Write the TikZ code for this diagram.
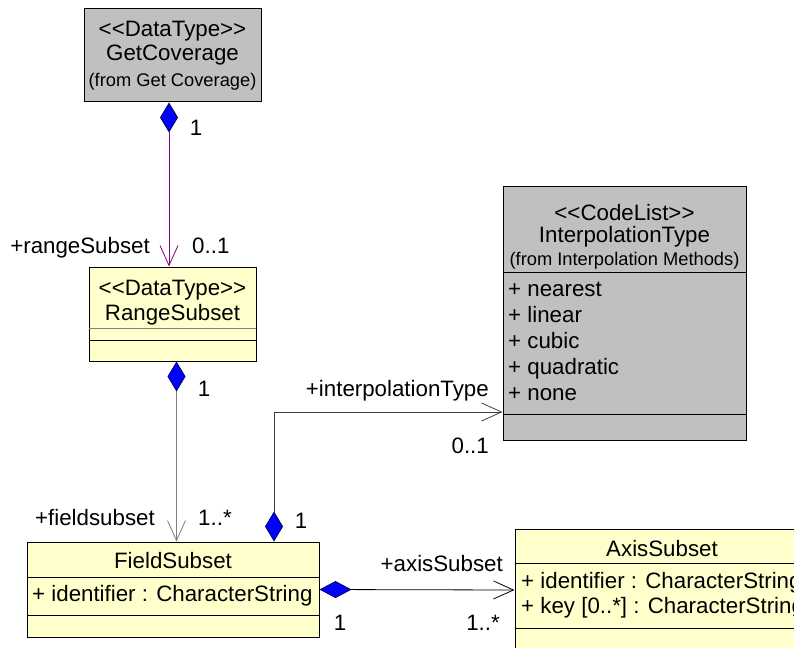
\documentclass[tikz,border=0pt]{standalone}
\usepackage{fontspec}
\setmainfont{Liberation Sans}
\usetikzlibrary{arrows.meta}
\definecolor{jaune}{HTML}{FFFFCC}
\definecolor{grisclair}{HTML}{C0C0C0}
\definecolor{lienviolet}{HTML}{800080}
\definecolor{liengris}{HTML}{7F7F7F}
\newcommand{\stereotype}[1]{<\kern0pt<#1>\kern0pt>}
\begin{document}
\begin{tikzpicture}[x=1pt,y=-1pt]
		\tikzstyle{classe}=[draw, fill=jaune, line width=1pt, inner sep=0pt]
		\tikzstyle{classe_grise}=[draw, fill=grisclair, line width=1pt, inner sep=0pt]
		\tikzstyle{texte}=[font=\fontsize{22.3}{26}\selectfont, inner sep=0pt, text height=16pt, text depth=0pt]
		\tikzstyle{petit}=[font=\fontsize{18.3}{21}\selectfont, inner sep=0pt, text height=13.1pt, text depth=0pt]
		\tikzstyle{compo}=[line width=0.8pt, {Diamond[color=blue!40!black, fill=blue, length=30pt, width=18pt]}-{Straight Barb[length=20pt, width=18pt]}]
		\tikzstyle{compo_h}=[line width=0.8pt, {Diamond[color=blue!40!black, fill=blue, length=32pt, width=17pt]}-{Straight Barb[length=20pt, width=18pt]}]
		\useasboundingbox (0,0) rectangle (794,647);
		\clip (0,0) rectangle (794,647);
		% classes
		\node[classe_grise, minimum width=177pt, minimum height=93pt] (getcov) at (172.5,55.5) {};
		\node[texte] (getcov_st) at (172.5,29) {\stereotype{DataType}};
		\node[texte] (getcov_nom) at (172.5,53) {GetCoverage};
		\node[petit] (getcov_pkg) at (172.5,80) {(from Get Coverage)};
		\node[classe, minimum width=167pt, minimum height=94pt] (rangesub) at (172.5,314) {};
		\node[texte] (rangesub_st) at (172.5,287) {\stereotype{DataType}};
		\node[texte] (rangesub_nom) at (172.5,312) {RangeSubset};
		\draw[gray] (89,328) -- (256,328);
		\draw (89,340) -- (256,340);
		\node[classe_grise, minimum width=243pt, minimum height=254pt] (interp) at (624.5,313) {};
		\node[texte] (interp_st) at (624.5,212) {\stereotype{CodeList}};
		\node[texte] (interp_nom) at (624.5,234) {InterpolationType};
		\node[petit] (interp_pkg) at (624.5,259) {(from Interpolation Methods)};
		\draw (503,272) -- (746,272);
		\draw (503,414) -- (746,414);
		\node[texte, anchor=west] (v1) at (508,288) {+ nearest};
		\node[texte, anchor=west] (v2) at (508,314) {+ linear};
		\node[texte, anchor=west] (v3) at (508,340) {+ cubic};
		\node[texte, anchor=west] (v4) at (508,366) {+ quadratic};
		\node[texte, anchor=west] (v5) at (508,392) {+ none};
		\node[classe, minimum width=292pt, minimum height=95pt] (fieldsub) at (173,589.5) {};
		\node[texte] (fieldsub_nom) at (173,560) {FieldSubset};
		\node[texte, anchor=west] (fieldsub_att) at (32,593) {+ identifier : CharacterString};
		\draw (27,577) -- (319,577);
		\draw (27,615) -- (319,615);
		\node[classe, minimum width=294pt, minimum height=122pt] (axissub) at (662,590) {};
		\node[texte] (axissub_nom) at (662,548) {AxisSubset};
		\node[texte, anchor=west] (axissub_att1) at (521,580) {+ identifier : CharacterString};
		\node[texte, anchor=west] (axissub_att2) at (521,605) {+ key [0..*] : CharacterString};
		\draw (515,563) -- (809,563);
		\draw (515,628) -- (809,628);
		% liens
		\draw[compo, draw=lienviolet] ([xshift=-3.5pt]getcov.south) -- ([xshift=-3.5pt]rangesub.north);
		\draw[compo, draw=liengris] ([xshift=4pt]rangesub.south) -- ([xshift=3.5pt]fieldsub.north);
		\draw[compo, draw=black!75] ([xshift=101pt]fieldsub.north) |- ([yshift=-99pt]interp.west);
		\draw[compo_h] (fieldsub.east) -- (axissub.west);
		% roles et multiplicites
		\node[texte] (m1) at (196,128) {1};
		\node[texte, anchor=east] (r1) at (150,245) {+rangeSubset};
		\node[texte, anchor=west] (m2) at (192,245) {0..1};
		\node[texte] (m3) at (204,388) {1};
		\node[texte, anchor=east] (r2) at (489,388) {+interpolationType};
		\node[texte, anchor=east] (m4) at (489,445) {0..1};
		\node[texte, anchor=east] (r3) at (155,517) {+fieldsubset};
		\node[texte, anchor=west] (m5) at (198,517) {1..*};
		\node[texte] (m6) at (301,520) {1};
		\node[texte] (m7) at (340,622) {1};
		\node[texte, anchor=east] (r4) at (503,563) {+axisSubset};
		\node[texte, anchor=east] (m8) at (500,622) {1..*};
	\end{tikzpicture}
\end{document}
